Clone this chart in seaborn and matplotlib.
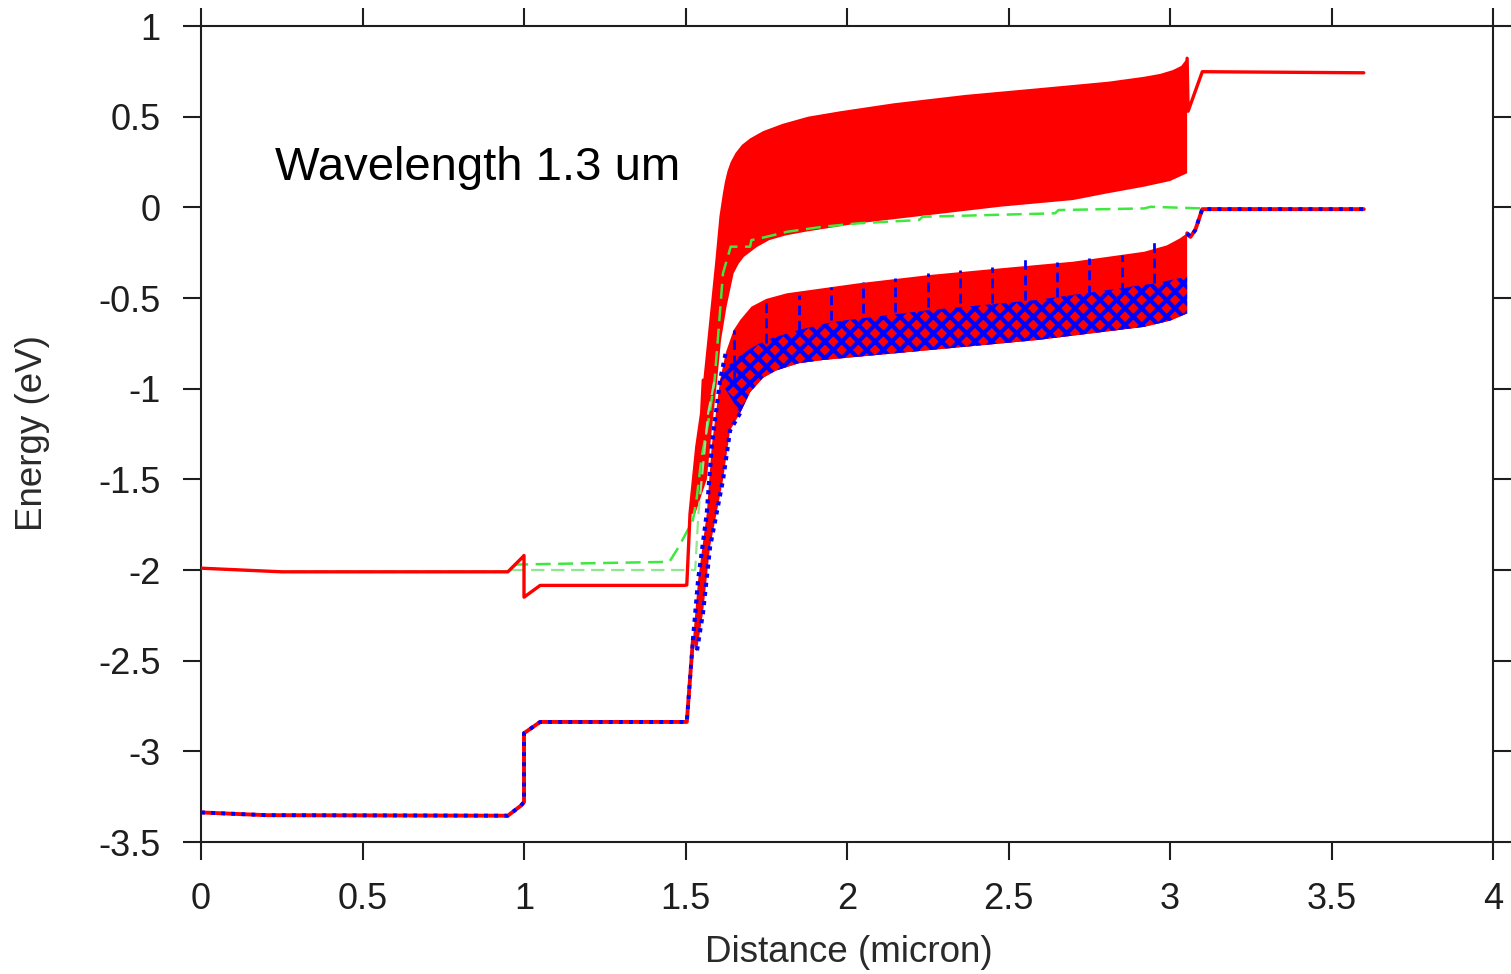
import numpy as np
import matplotlib
matplotlib.use("Agg")
import matplotlib.pyplot as plt
import seaborn as sns

# ---------------- data ----------------
# conduction band line (left part) and right part
cb_x = [0.0, 0.25, 0.95, 0.995, 1.0, 1.0, 1.05, 1.495, 1.504, 1.514, 1.535, 1.550, 1.555]
cb_y = [-1.99, -2.01, -2.01, -1.93, -1.92, -2.15, -2.085, -2.085, -2.083, -1.69, -1.32, -1.135, -0.953]
cb_r_x = [3.053, 3.056, 3.100, 3.600]
cb_r_y = [0.822, 0.530, 0.748, 0.742]

# conduction band superlattice envelope (barrier tops / well bottoms)
cbu_x = [1.514, 1.535, 1.550, 1.555, 1.575, 1.592, 1.605, 1.616, 1.622, 1.630, 1.640, 1.655,
         1.675, 1.700, 1.740, 1.800, 1.880, 1.980, 2.146, 2.367, 2.588, 2.810, 2.920, 2.970,
         3.009, 3.035, 3.053]
cbu_y = [-1.69, -1.32, -1.135, -0.953, -0.60, -0.30, -0.05, 0.08, 0.14, 0.20, 0.25, 0.30,
         0.345, 0.38, 0.42, 0.46, 0.50, 0.53, 0.574, 0.620, 0.656, 0.693, 0.720, 0.736,
         0.757, 0.780, 0.822]
cbl_x = [3.053, 3.000, 2.920, 2.800, 2.699, 2.478, 2.257, 2.036, 1.870, 1.810, 1.759, 1.720,
         1.681, 1.665, 1.649, 1.627, 1.610, 1.598, 1.580, 1.566, 1.530]
cbl_y = [0.188, 0.145, 0.114, 0.075, 0.040, 0.004, -0.042, -0.088, -0.135, -0.155, -0.181,
         -0.22, -0.273, -0.31, -0.364, -0.548, -0.732, -0.953, -1.25, -1.50, -1.69]

# valence band line
vb_x = [0.0, 0.20, 0.95, 0.99, 1.0, 1.0, 1.05, 1.504, 1.523]
vb_y = [-3.337, -3.352, -3.355, -3.30, -3.28, -2.90, -2.838, -2.838, -2.387]
vb_r_x = [3.053, 3.063, 3.078, 3.100, 3.600]
vb_r_y = [-0.143, -0.163, -0.126, -0.010, -0.010]

# valence band superlattice envelope
vbu_x = [1.523, 1.539, 1.566, 1.581, 1.607, 1.625, 1.649, 1.670, 1.704, 1.750, 1.814, 2.036,
         2.257, 2.478, 2.699, 2.920, 2.990, 3.031, 3.053]
vbu_y = [-2.387, -2.056, -1.686, -1.32, -0.953, -0.80, -0.677, -0.62, -0.548, -0.505, -0.474,
         -0.419, -0.373, -0.336, -0.300, -0.245, -0.210, -0.171, -0.143]
vbl_x = [3.053, 3.000, 2.920, 2.588, 2.257, 1.925, 1.850, 1.780, 1.740, 1.700, 1.669, 1.638,
         1.616, 1.576, 1.554, 1.535]
vbl_y = [-0.585, -0.625, -0.659, -0.732, -0.787, -0.842, -0.860, -0.900, -0.940, -1.020,
         -1.135, -1.23, -1.504, -1.873, -2.238, -2.45]
# top of the blue (dotted) well region
vbb_x = [1.607, 1.630, 1.660, 1.700, 1.748, 1.848, 1.958, 2.257, 2.588, 2.954, 3.053]
vbb_y = [-0.953, -0.880, -0.830, -0.780, -0.732, -0.677, -0.631, -0.566, -0.511, -0.419, -0.382]

# blue dashed spikes
spike_x = [1.65, 1.75, 1.85, 1.95, 2.05, 2.15, 2.25, 2.35, 2.45, 2.55, 2.65, 2.75, 2.85, 2.95]
spike_top = [-0.677, -0.502, -0.484, -0.438, -0.410, -0.392, -0.364, -0.346, -0.331, -0.263,
             -0.300, -0.281, -0.263, -0.190]
spike_bot = [-0.95, -0.750, -0.677, -0.622, -0.585, -0.576, -0.548, -0.530, -0.530, -0.511,
             -0.493, -0.484, -0.466, -0.419]

# quasi Fermi levels (green dashed)
qa_x = [0.0, 0.25, 0.95, 0.975, 1.45, 1.48, 1.523, 1.535, 1.55, 1.57, 1.59, 1.60, 1.616, 1.64,
        1.70, 1.704, 1.75, 1.814, 1.925, 2.036, 2.223, 2.234, 2.644, 2.655, 2.92, 2.94, 3.10, 3.60]
qa_y = [-1.99, -2.01, -2.01, -1.97, -1.955, -1.87, -1.725, -1.60, -1.376, -1.19, -0.953, -0.732,
        -0.364, -0.217, -0.217, -0.181, -0.163, -0.135, -0.107, -0.088, -0.070, -0.052, -0.033,
        -0.015, -0.006, 0.003, -0.006, -0.010]
qb_x = [0.96, 1.53, 1.54, 1.555, 1.57, 1.59]
qb_y = [-2.0, -2.0, -1.688, -1.412, -1.136, -0.953]

xticks = [0, 0.5, 1, 1.5, 2, 2.5, 3, 3.5, 4]
xtick_labels = ["0", "0.5", "1", "1.5", "2", "2.5", "3", "3.5", "4"]
yticks = [1, 0.5, 0, -0.5, -1, -1.5, -2, -2.5, -3, -3.5]
ytick_labels = ["1", "0.5", "0", "-0.5", "-1", "-1.5", "-2", "-2.5", "-3", "-3.5"]

# ---------------- drawing ----------------
sns.set_theme(style="ticks")
plt.rcParams["font.family"] = ["Liberation Sans", "DejaVu Sans"]
plt.rcParams["hatch.linewidth"] = 3.0

W, H = 1511, 974
fig = plt.figure(figsize=(W / 100, H / 100), dpi=100)
ax = fig.add_axes([201 / W, 1 - 842 / H, 1292 / W, 816 / H])

RED = "#ff0000"
BLUE = "#0000ff"
GREEN = "#3fe83f"

# superlattice fills
ax.fill(np.r_[cbu_x, cbl_x], np.r_[cbu_y, cbl_y], color=RED, lw=0, zorder=2)
ax.fill(np.r_[vbu_x, vbl_x], np.r_[vbu_y, vbl_y], color=RED, lw=0, zorder=2)
ax.fill(np.r_[vbb_x, vbl_x[:-5]], np.r_[vbb_y, vbl_y[:-5]], facecolor=RED, edgecolor=BLUE,
        hatch="xx", lw=0, zorder=3)
ax.vlines(spike_x, spike_bot, spike_top, colors=BLUE, linestyles=(0, (3.5, 2)), lw=2.0, zorder=4)

# quasi Fermi levels (under the band lines, over the fills)
sns.lineplot(x=qa_x, y=qa_y, sort=False, estimator=None, color=GREEN, lw=1.8,
             linestyle=(0, (6, 3)), ax=ax, zorder=4.5)
sns.lineplot(x=qb_x, y=qb_y, sort=False, estimator=None, color="#8fe88f", lw=1.6,
             linestyle=(0, (6, 3)), ax=ax, zorder=4.5)

# valence band lines: red solid with blue dots
for xs, ys in [(vb_x, vb_y), (vb_r_x, vb_r_y)]:
    sns.lineplot(x=xs, y=ys, sort=False, estimator=None, color=RED, lw=2.8, ax=ax, zorder=5)
    sns.lineplot(x=xs, y=ys, sort=False, estimator=None, color=BLUE, lw=2.8,
                 linestyle=(0, (1, 1.6)), ax=ax, zorder=6)
# steep valence part: blue dotted along the envelope edges
sns.lineplot(x=vbu_x[:6], y=vbu_y[:6], sort=False, estimator=None, color=BLUE, lw=3,
             linestyle=(0, (1, 1.2)), ax=ax, zorder=6)
sns.lineplot(x=vbl_x[-6:], y=vbl_y[-6:], sort=False, estimator=None, color=BLUE, lw=3,
             linestyle=(0, (1, 1.2)), ax=ax, zorder=6)

# conduction band lines
sns.lineplot(x=cb_x, y=cb_y, sort=False, estimator=None, color=RED, lw=2.4, ax=ax, zorder=5)
sns.lineplot(x=cb_r_x, y=cb_r_y, sort=False, estimator=None, color=RED, lw=2.4, ax=ax, zorder=5)

ax.text(0.229, 0.151, "Wavelength 1.3 um", fontsize=34, color="black", ha="left", va="baseline")

ax.set_xlim(0, 4)
ax.set_ylim(-3.5, 1)
ax.set_xticks(xticks)
ax.set_xticklabels(xtick_labels)
ax.set_yticks(yticks)
ax.set_yticklabels(ytick_labels)
ax.tick_params(direction="out", length=13, width=1.5, top=True, right=True,
               labelsize=26, pad=16, colors="#1e1e1e")
for s in ax.spines.values():
    s.set_visible(True)
    s.set_linewidth(1.5)
    s.set_color("#1e1e1e")

ax.set_xlabel("Distance (micron)", fontsize=26.5, color="#2a2a2a")
ax.set_ylabel("Energy (eV)", fontsize=26.5, color="#2a2a2a")
ax.xaxis.set_label_coords((848.5 - 201) / 1292, (842 - 952) / 816)
ax.xaxis.label.set_va("center")
ax.yaxis.set_label_coords((33 - 201) / 1292, (842 - 433.5) / 816)
ax.yaxis.label.set_va("center")

fig.savefig("out.png", dpi=100)
